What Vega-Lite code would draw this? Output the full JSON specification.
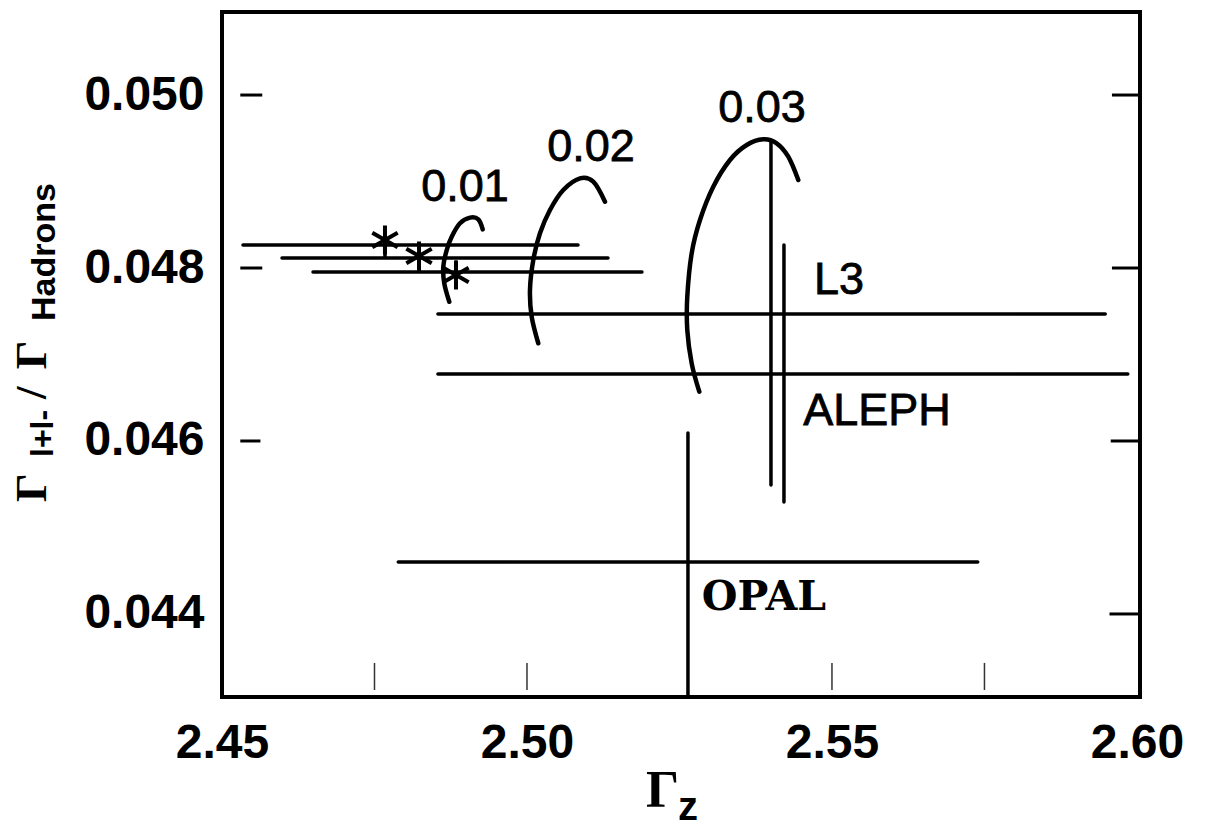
{
  "$schema": "https://vega.github.io/schema/vega-lite/v6.json",
  "autosize": {"type": "none"},
  "width": 918,
  "height": 685,
  "padding": {"left": 222, "top": 12, "right": 76, "bottom": 131},
  "background": "white",
  "config": {
    "font": "Liberation Sans",
    "view": {"stroke": "#000000", "strokeWidth": 4},
    "axis": {
      "labelFont": "Liberation Sans",
      "labelFontWeight": "bold",
      "labelFontSize": 48,
      "labelColor": "#000000",
      "ticks": false,
      "tickSize": 0,
      "domain": false,
      "grid": false,
      "labelOverlap": false,
      "labelFlush": false,
      "labelBound": false,
      "title": null
    }
  },
  "datasets": {
    "frameTicks": [
      {"x": 2.4530, "x2": 2.4566, "y": 0.050, "y2": 0.050},
      {"x": 2.4530, "x2": 2.4566, "y": 0.048, "y2": 0.048},
      {"x": 2.4530, "x2": 2.4563, "y": 0.046, "y2": 0.046},
      {"x": 2.5959, "x2": 2.6005, "y": 0.050, "y2": 0.050},
      {"x": 2.5959, "x2": 2.6005, "y": 0.048, "y2": 0.048},
      {"x": 2.5957, "x2": 2.6005, "y": 0.046, "y2": 0.046},
      {"x": 2.5955, "x2": 2.6005, "y": 0.044, "y2": 0.044}
    ],
    "minorTicks": [
      {"x": 2.475, "x2": 2.475, "y": 0.043434, "y2": 0.043121},
      {"x": 2.500, "x2": 2.500, "y": 0.043434, "y2": 0.043121},
      {"x": 2.550, "x2": 2.550, "y": 0.043434, "y2": 0.043121},
      {"x": 2.575, "x2": 2.575, "y": 0.043434, "y2": 0.043121}
    ],
    "bars": [
      {"name": "fit 1", "x": 2.45344, "x2": 2.50836, "y": 0.048266, "y2": 0.048266},
      {"name": "fit 2", "x": 2.45984, "x2": 2.51328, "y": 0.048116, "y2": 0.048116},
      {"name": "fit 3", "x": 2.46492, "x2": 2.51885, "y": 0.047954, "y2": 0.047954},
      {"name": "fit 1 stem", "x": 2.47672, "x2": 2.47672, "y": 0.048324, "y2": 0.048127},
      {"name": "fit 2 stem", "x": 2.48230, "x2": 2.48230, "y": 0.048139, "y2": 0.047977},
      {"name": "fit 3 stem", "x": 2.48836, "x2": 2.48836, "y": 0.048069, "y2": 0.047803},
      {"name": "L3", "x": 2.4854, "x2": 2.5948, "y": 0.047468, "y2": 0.047468},
      {"name": "ALEPH", "x": 2.4854, "x2": 2.5985, "y": 0.046775, "y2": 0.046775},
      {"name": "OPAL", "x": 2.4789, "x2": 2.5739, "y": 0.044601, "y2": 0.044601},
      {"name": "OPAL", "x": 2.52639, "x2": 2.52639, "y": 0.046092, "y2": 0.04304},
      {"name": "L3", "x": 2.5400, "x2": 2.5400, "y": 0.049457, "y2": 0.045491},
      {"name": "ALEPH", "x": 2.54213, "x2": 2.54213, "y": 0.048266, "y2": 0.045295}
    ],
    "stars": [
      {"x": 2.47672, "y": 0.048324},
      {"x": 2.48230, "y": 0.048139},
      {"x": 2.48836, "y": 0.047919}
    ],
    "contours": [
      {"c": "0.01", "i": 0, "x": 2.48726, "y": 0.047610},
      {"c": "0.01", "i": 1, "x": 2.48644, "y": 0.047823},
      {"c": "0.01", "i": 2, "x": 2.48628, "y": 0.048015},
      {"c": "0.01", "i": 3, "x": 2.48684, "y": 0.048208},
      {"c": "0.01", "i": 4, "x": 2.48766, "y": 0.048362},
      {"c": "0.01", "i": 5, "x": 2.48902, "y": 0.048517},
      {"c": "0.01", "i": 6, "x": 2.49066, "y": 0.048582},
      {"c": "0.01", "i": 7, "x": 2.49202, "y": 0.048563},
      {"c": "0.01", "i": 8, "x": 2.49274, "y": 0.048447},
      {"c": "0.02", "i": 0, "x": 2.50185, "y": 0.047130},
      {"c": "0.02", "i": 1, "x": 2.50077, "y": 0.047437},
      {"c": "0.02", "i": 2, "x": 2.50049, "y": 0.047746},
      {"c": "0.02", "i": 3, "x": 2.50103, "y": 0.048092},
      {"c": "0.02", "i": 4, "x": 2.50213, "y": 0.048401},
      {"c": "0.02", "i": 5, "x": 2.50377, "y": 0.048671},
      {"c": "0.02", "i": 6, "x": 2.50595, "y": 0.048902},
      {"c": "0.02", "i": 7, "x": 2.50869, "y": 0.049037},
      {"c": "0.02", "i": 8, "x": 2.51087, "y": 0.048998},
      {"c": "0.02", "i": 9, "x": 2.51279, "y": 0.048766},
      {"c": "0.03", "i": 0, "x": 2.52825, "y": 0.046570},
      {"c": "0.03", "i": 1, "x": 2.52700, "y": 0.046898},
      {"c": "0.03", "i": 2, "x": 2.52628, "y": 0.047283},
      {"c": "0.03", "i": 3, "x": 2.52628, "y": 0.047668},
      {"c": "0.03", "i": 4, "x": 2.52700, "y": 0.048170},
      {"c": "0.03", "i": 5, "x": 2.52836, "y": 0.048555},
      {"c": "0.03", "i": 6, "x": 2.53054, "y": 0.048940},
      {"c": "0.03", "i": 7, "x": 2.53328, "y": 0.049249},
      {"c": "0.03", "i": 8, "x": 2.53602, "y": 0.049422},
      {"c": "0.03", "i": 9, "x": 2.53874, "y": 0.049488},
      {"c": "0.03", "i": 10, "x": 2.54093, "y": 0.049442},
      {"c": "0.03", "i": 11, "x": 2.54284, "y": 0.049287},
      {"c": "0.03", "i": 12, "x": 2.54448, "y": 0.049017}
    ],
    "labels": [
      {"text": "0.01", "x": 2.48984, "y": 0.048936},
      {"text": "0.02", "x": 2.51049, "y": 0.049399},
      {"text": "0.03", "x": 2.53852, "y": 0.049850},
      {"text": "L3", "x": 2.55115, "y": 0.047861},
      {"text": "ALEPH", "x": 2.55738, "y": 0.046347},
      {"text": "OPAL", "x": 2.53885, "y": 0.044185}
    ],
    "titleGreek": [
      {"text": "Γ", "x": 2.42115, "y": 0.045295},
      {"text": "/", "x": 2.42115, "y": 0.046486},
      {"text": "Γ", "x": 2.42115, "y": 0.046830}
    ],
    "titleSub": [
      {"text": "l+l-", "x": 2.42230, "y": 0.045815, "size": "small"},
      {"text": "Hadrons", "x": 2.42262, "y": 0.047387, "size": "large"}
    ],
    "xTitle": [
      {"text": "Γ", "x": 2.51951, "y": 0.041769},
      {"text": "z", "x": 2.52475, "y": 0.041618}
    ]
  },
  "encoding": {
    "x": {
      "field": "x",
      "type": "quantitative",
      "scale": {"domain": [2.45, 2.6005], "nice": false, "zero": false},
      "axis": {"values": [2.45, 2.5, 2.55, 2.6], "format": ".2f", "labelPadding": 22}
    },
    "y": {
      "field": "y",
      "type": "quantitative",
      "scale": {"domain": [0.04304, 0.05096], "nice": false, "zero": false},
      "axis": {"values": [0.044, 0.046, 0.048, 0.05], "format": ".3f", "labelPadding": 18}
    }
  },
  "layer": [
    {
      "data": {"name": "frameTicks"},
      "mark": {"type": "rule", "color": "#000000", "strokeWidth": 3},
      "encoding": {"x2": {"field": "x2"}, "y2": {"field": "y2"}}
    },
    {
      "data": {"name": "minorTicks"},
      "mark": {"type": "rule", "color": "#333333", "strokeWidth": 1.5},
      "encoding": {"x2": {"field": "x2"}, "y2": {"field": "y2"}}
    },
    {
      "data": {"name": "bars"},
      "mark": {"type": "rule", "color": "#000000", "strokeWidth": 3.5, "strokeCap": "round"},
      "encoding": {"x2": {"field": "x2"}, "y2": {"field": "y2"}}
    },
    {
      "data": {"name": "contours"},
      "mark": {"type": "line", "color": "#000000", "strokeWidth": 4.5, "interpolate": "cardinal", "strokeCap": "round"},
      "encoding": {
        "detail": {"field": "c"},
        "order": {"field": "i", "type": "quantitative"}
      }
    },
    {
      "data": {"name": "stars"},
      "mark": {
        "type": "point",
        "shape": "M0,-1L0,1M-0.87,-0.5L0.87,0.5M-0.87,0.5L0.87,-0.5",
        "filled": false,
        "stroke": "#000000",
        "strokeWidth": 4,
        "size": 850,
        "opacity": 1
      },
      "encoding": {}
    },
    {
      "data": {"name": "labels"},
      "transform": [{"filter": "datum.text !== 'OPAL'"}],
      "mark": {"type": "text", "font": "Liberation Sans", "fontSize": 45, "color": "#000000", "stroke": "#000000", "strokeWidth": 0.8, "align": "center", "baseline": "middle"},
      "encoding": {"text": {"field": "text"}}
    },
    {
      "data": {"name": "labels"},
      "transform": [{"filter": "datum.text === 'OPAL'"}],
      "mark": {"type": "text", "font": "DejaVu Serif", "fontWeight": "bold", "fontSize": 41, "color": "#000000", "align": "center", "baseline": "middle"},
      "encoding": {"text": {"field": "text"}}
    },
    {
      "data": {"name": "titleGreek"},
      "mark": {"type": "text", "font": "Liberation Serif", "fontWeight": "bold", "fontSize": 45, "angle": 270, "align": "left", "baseline": "alphabetic", "color": "#000000"},
      "encoding": {"text": {"field": "text"}}
    },
    {
      "data": {"name": "titleSub"},
      "transform": [{"filter": "datum.size === 'small'"}],
      "mark": {"type": "text", "font": "Liberation Sans", "fontWeight": "bold", "fontSize": 32, "angle": 270, "align": "left", "baseline": "alphabetic", "color": "#000000"},
      "encoding": {"text": {"field": "text"}}
    },
    {
      "data": {"name": "titleSub"},
      "transform": [{"filter": "datum.size === 'large'"}],
      "mark": {"type": "text", "font": "Liberation Sans", "fontWeight": "bold", "fontSize": 34, "angle": 270, "align": "left", "baseline": "alphabetic", "color": "#000000"},
      "encoding": {"text": {"field": "text"}}
    },
    {
      "data": {"name": "xTitle"},
      "transform": [{"filter": "datum.text === 'Γ'"}],
      "mark": {"type": "text", "font": "Liberation Serif", "fontWeight": "bold", "fontSize": 52, "align": "left", "baseline": "alphabetic", "color": "#000000"},
      "encoding": {"text": {"field": "text"}}
    },
    {
      "data": {"name": "xTitle"},
      "transform": [{"filter": "datum.text === 'z'"}],
      "mark": {"type": "text", "font": "Liberation Sans", "fontWeight": "bold", "fontSize": 40, "align": "left", "baseline": "alphabetic", "color": "#000000"},
      "encoding": {"text": {"field": "text"}}
    }
  ]
}
